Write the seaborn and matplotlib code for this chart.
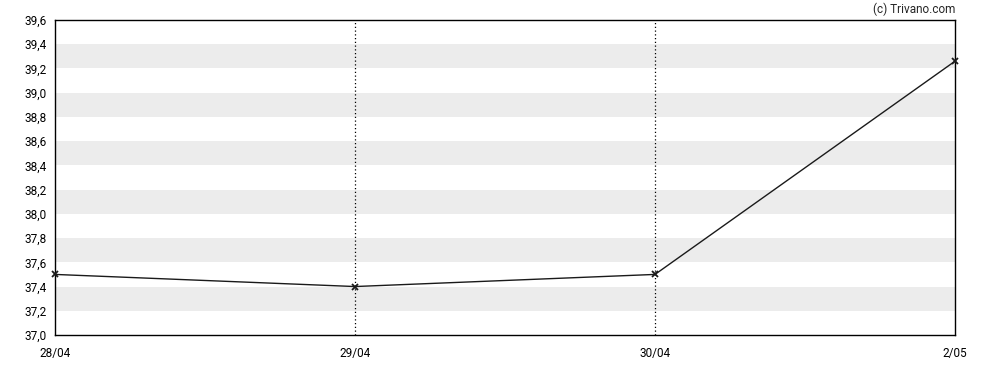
import pandas as pd
import seaborn as sns
import matplotlib.pyplot as plt

# data
dates = ["28/04", "29/04", "30/04", "2/05"]
prices = [37.50, 37.40, 37.50, 39.26]
y_ticks = [37.0, 37.2, 37.4, 37.6, 37.8, 38.0, 38.2, 38.4, 38.6, 38.8, 39.0, 39.2, 39.4, 39.6]

df = pd.DataFrame({"pos": range(len(dates)), "price": prices})

sns.set_style("white")
plt.rcParams['font.family'] = ['Roboto', 'DejaVu Sans']

fig = plt.figure(figsize=(9.88, 3.70), dpi=100)
ax = fig.add_axes([55 / 988, 1 - 335 / 370, 900 / 988, 315 / 370])

# alternating grey bands
for lo in y_ticks[1:-1:2]:
    ax.axhspan(lo, lo + 0.2, color="#ececec", lw=0, zorder=0)

# dotted verticals at inner dates
for p in df["pos"][1:-1]:
    ax.axvline(p, color="black", ls=(0, (1, 2)), lw=0.9, zorder=1)

sns.lineplot(data=df, x="pos", y="price", ax=ax, color="#1a1a1a", lw=1.0,
             marker="x", markersize=4, markeredgewidth=1.3, markeredgecolor="#1a1a1a", zorder=3)
for ln in ax.lines:
    ln.set_clip_on(False)

ax.set_xlim(0, len(dates) - 1)
ax.set_ylim(y_ticks[0], y_ticks[-1])
ax.set_xticks(range(len(dates)))
ax.set_xticklabels(dates)
ax.set_yticks(y_ticks)
ax.set_yticklabels([f"{v:.1f}".replace(".", ",") for v in y_ticks])
ax.set_xlabel("")
ax.set_ylabel("")
ax.tick_params(axis="both", direction="out", length=4, width=1, labelsize=8.5, colors="black", pad=2)
ax.tick_params(axis="x", pad=5)
for s in ax.spines.values():
    s.set_color("black")
    s.set_linewidth(1)

fig.text(955 / 988, 1 - 9 / 370, "(c) Trivano.com", ha="right", va="center", fontsize=8.5)

fig.savefig("out.png", dpi=100)
